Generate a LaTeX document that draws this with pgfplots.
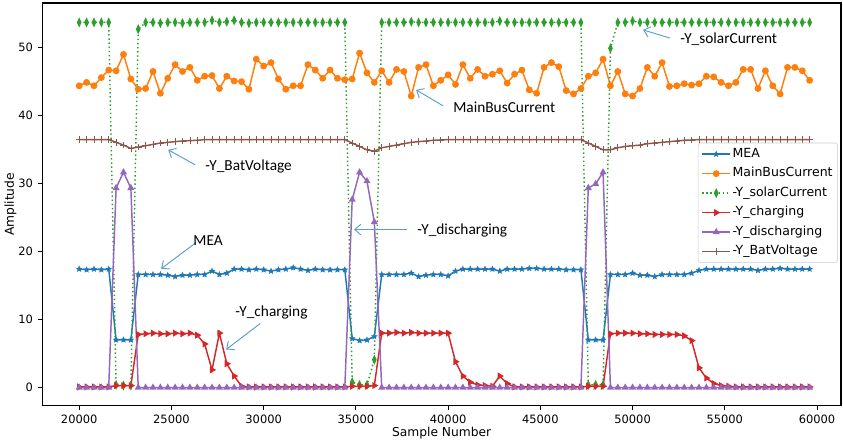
\documentclass[border=0pt]{standalone}
\usepackage{fontspec}
\setmainfont{DejaVu Sans}
\newfontfamily\annofont{Carlito}
\usepackage{pgfplots}
\pgfplotsset{compat=1.18}
\usepackage{pgfplotstable}
\usetikzlibrary{arrows.meta}

\definecolor{cblue}{HTML}{1F77B4}
\definecolor{corange}{HTML}{FF7F0E}
\definecolor{cgreen}{HTML}{2CA02C}
\definecolor{cred}{HTML}{D62728}
\definecolor{cpurple}{HTML}{9467BD}
\definecolor{cbrown}{HTML}{8C564B}
\definecolor{annoblue}{RGB}{91,155,213}

% filled five-pointed star (matplotlib '*')
\pgfdeclareplotmark{fstar}{%
  \pgfpathmoveto{\pgfpointpolar{90}{\pgfplotmarksize}}%
  \pgfpathlineto{\pgfpointpolar{126}{0.45\pgfplotmarksize}}%
  \pgfpathlineto{\pgfpointpolar{162}{\pgfplotmarksize}}%
  \pgfpathlineto{\pgfpointpolar{198}{0.45\pgfplotmarksize}}%
  \pgfpathlineto{\pgfpointpolar{234}{\pgfplotmarksize}}%
  \pgfpathlineto{\pgfpointpolar{270}{0.45\pgfplotmarksize}}%
  \pgfpathlineto{\pgfpointpolar{306}{\pgfplotmarksize}}%
  \pgfpathlineto{\pgfpointpolar{342}{0.45\pgfplotmarksize}}%
  \pgfpathlineto{\pgfpointpolar{18}{\pgfplotmarksize}}%
  \pgfpathlineto{\pgfpointpolar{54}{0.45\pgfplotmarksize}}%
  \pgfpathclose\pgfusepathqfillstroke}

% x mea bus sol chg dis bat
\pgfplotstableread{
x mea bus sol chg dis bat
20000 17.4 44.3 53.6 0.1 0 36.4
20400 17.3 44.8 53.6 0.1 0 36.4
20800 17.4 44.3 53.6 0.1 0 36.4
21200 17.3 45.5 53.6 0.1 0 36.4
21600 17.4 46.6 53.6 0.1 0 36.4
22000 7.0 46.5 0.4 0.3 29.3 36.0
22400 7.0 48.9 0.3 0.3 31.6 35.6
22800 7.0 45.3 0.3 0.3 29.3 35.1
23200 16.6 43.8 52.6 7.8 0 35.3
23600 16.6 43.9 53.6 7.9 0 35.5
24000 16.6 46.4 53.6 8.0 0 35.7
24400 16.6 43.2 53.5 7.9 0 35.9
24800 16.5 45.4 53.6 7.9 0 36.0
25200 16.3 47.4 53.6 8.0 0 36.1
25600 16.5 46.4 53.5 7.9 0 36.2
26000 16.5 47.0 53.6 8.0 0 36.25
26400 16.6 45.1 53.6 7.7 0 36.3
26800 16.6 45.7 53.6 6.4 0 36.4
27200 17.1 45.8 53.9 2.6 0 36.4
27600 16.6 43.9 53.6 8.0 0 36.4
28000 16.8 45.7 53.7 3.5 0 36.4
28400 17.4 45.0 53.9 1.7 0 36.4
28800 17.4 44.9 53.6 0.2 0 36.4
29200 17.3 43.8 53.5 0.1 0 36.4
29600 17.4 48.2 53.6 0.1 0 36.4
30000 17.3 47.2 53.6 0.1 0 36.4
30400 17.1 47.7 53.6 0.1 0 36.4
30800 17.3 45.3 53.6 0.1 0 36.4
31200 17.4 43.8 53.6 0.1 0 36.4
31600 17.6 44.3 53.6 0.1 0 36.4
32000 17.4 44.3 53.6 0.1 0 36.4
32400 17.2 47.4 53.6 0.1 0 36.4
32800 17.4 46.6 53.6 0.1 0 36.4
33200 17.3 45.4 53.6 0.1 0 36.4
33600 17.3 46.6 53.6 0.1 0 36.4
34000 17.3 45.4 53.6 0.1 0 36.4
34400 17.3 45.2 53.6 0.1 0 36.4
34800 7.2 45.3 0.8 0.2 27.6 35.9
35200 6.9 49.1 0.4 0.2 31.6 35.4
35600 7.0 46.2 0.4 0.2 30.3 34.9
36000 7.5 44.8 4.1 0.3 24.3 34.7
36400 16.6 46.5 53.6 8.0 0 35.2
36800 16.6 44.8 53.6 8.0 0 35.4
37200 16.6 46.7 53.6 8.1 0 35.6
37600 16.6 46.4 53.6 8.0 0 35.8
38000 16.8 42.8 53.7 8.1 0 36.0
38400 16.3 47.0 53.6 8.0 0 36.1
38800 16.5 47.4 53.6 8.0 0 36.2
39200 16.6 44.3 53.6 8.0 0 36.3
39600 16.6 45.1 53.6 8.0 0 36.35
40000 16.4 45.9 53.6 8.0 0 36.4
40400 17.1 44.5 53.6 3.8 0 36.4
40800 17.4 47.4 53.6 1.7 0 36.4
41200 17.4 45.4 53.6 0.8 0 36.4
41600 17.4 46.7 53.6 0.4 0 36.4
42000 17.4 45.7 53.6 0.3 0 36.4
42400 17.4 46.0 53.6 0.2 0 36.4
42800 17.1 46.5 53.8 1.7 0 36.4
43200 17.4 44.7 53.6 0.6 0 36.4
43600 17.4 46.0 53.6 0.1 0 36.4
44000 17.4 46.6 53.6 0.1 0 36.4
44400 17.5 43.7 53.6 0.1 0 36.4
44800 17.5 43.2 53.6 0.1 0 36.4
45200 17.4 47.0 53.6 0.1 0 36.4
45600 17.4 47.7 53.6 0.1 0 36.4
46000 17.4 47.1 53.6 0.1 0 36.4
46400 17.3 43.6 53.6 0.1 0 36.4
46800 17.3 43.1 53.6 0.1 0 36.4
47200 17.3 43.9 53.6 0.1 0 36.4
47600 7.0 45.7 0.4 0.2 29.3 35.9
48000 7.0 46.2 0.4 0.2 29.9 35.4
48400 7.0 48.2 0.4 0.2 31.6 34.9
48800 16.6 44.3 49.8 7.9 0 34.9
49200 16.6 46.4 53.6 8.0 0 35.2
49600 16.6 43.1 53.6 8.0 0 35.4
50000 16.8 42.8 53.8 8.0 0 35.5
50400 16.5 43.9 53.6 7.9 0 35.6
50800 16.5 47.0 53.6 7.9 0 35.8
51200 16.3 45.7 53.6 7.8 0 35.9
51600 16.6 47.7 53.6 7.8 0 36.0
52000 16.6 44.2 53.6 7.8 0 36.1
52400 16.6 44.3 53.6 7.8 0 36.2
52800 16.6 44.6 53.6 7.6 0 36.3
53200 16.8 44.4 53.6 6.9 0 36.35
53600 17.2 44.6 53.6 2.9 0 36.4
54000 17.4 45.7 53.6 1.4 0 36.4
54400 17.4 45.6 53.6 0.6 0 36.4
54800 17.4 44.8 53.6 0.3 0 36.4
55200 17.4 44.3 53.6 0.2 0 36.4
55600 17.4 44.8 53.6 0.1 0 36.4
56000 17.4 46.7 53.6 0.1 0 36.4
56400 17.4 46.7 53.6 0.1 0 36.4
56800 17.2 43.9 53.6 0.1 0 36.4
57200 17.4 46.5 53.6 0.1 0 36.4
57600 17.4 44.3 53.6 0.1 0 36.4
58000 17.5 43.1 53.6 0.1 0 36.4
58400 17.4 47.0 53.6 0.1 0 36.4
58800 17.4 47.0 53.6 0.1 0 36.4
59200 17.4 46.5 53.6 0.1 0 36.4
59600 17.4 45.1 53.6 0.1 0 36.4
}\datatable

\begin{document}
\begin{tikzpicture}
\begin{axis}[
 scale only axis,width=599pt,height=302pt,
 xmin=18000,xmax=61300,ymin=-2.65,ymax=56.45,
 xtick={20000,25000,...,60000},ytick={0,10,...,50},
 scaled x ticks=false,
 xticklabel style={/pgf/number format/1000 sep={}},
 /pgf/number format/assume math mode=true,
 tick align=outside,tick pos=left,major tick length=3.5pt,
 tick style={black,line width=0.6pt},
 axis line style={line width=0.8pt},
 tick label style={font=\fontsize{8.6}{10}\selectfont},
 label style={font=\fontsize{9.2}{10}\selectfont},
 xlabel={Sample Number},ylabel={Amplitude},
 xlabel style={at={(axis description cs:0.5,-0.068)},anchor=center},
 ylabel style={at={(axis description cs:-0.040,0.5)},anchor=center},
 every axis plot/.append style={line width=1.1pt},
 legend cell align=left,
 legend style={at={(0.996,0.653)},anchor=north east,draw=black!20,rounded corners=2pt,
   font=\fontsize{9.4}{11}\selectfont,inner xsep=2.5pt,inner ysep=2.5pt,row sep=2.8pt,
   nodes={inner sep=1.2pt,text height=7.2pt,text depth=2.2pt}},
 legend image code/.code={\draw[mark repeat=2,mark phase=2,#1] plot coordinates {(0pt,0pt) (10.5pt,0pt) (21pt,0pt)};},
]
\addplot[cblue,mark=fstar,mark size=2.2pt,mark options={line width=0.3pt}] table[x=x,y=mea]{\datatable};
\addlegendentry{MEA}
\addplot[corange,mark=*,mark size=2pt] table[x=x,y=bus]{\datatable};
\addlegendentry{MainBusCurrent}
\addplot[cgreen,dash pattern=on 1.1pt off 2pt,mark=diamond*,mark size=2.5pt,mark options={solid,xscale=0.62}] table[x=x,y=sol]{\datatable};
\addlegendentry{-Y\_solarCurrent}
\addplot[cred,mark=triangle*,mark size=2pt,mark options={rotate=-90}] table[x=x,y=chg]{\datatable};
\addlegendentry{-Y\_charging}
\addplot[cpurple,mark=triangle*,mark size=2pt] table[x=x,y=dis]{\datatable};
\addlegendentry{-Y\_discharging}
\addplot[cbrown,mark=+,mark size=2.5pt,mark options={line width=0.5pt}] table[x=x,y=bat]{\datatable};
\addlegendentry{-Y\_BatVoltage}

% annotations
\begin{scope}[every node/.style={font=\annofont\fontsize{11.5}{12}\selectfont,anchor=west,inner sep=0pt}]
\draw[annoblue,line width=0.7pt,-{Straight Barb[length=4.5pt,width=8pt]}] (axis cs:52033,51.3) -- (axis cs:50569,52.5);
\node at (axis cs:52575,51.2) {-Y\_solarCurrent};
\draw[annoblue,line width=0.7pt,-{Straight Barb[length=4.5pt,width=8pt]}] (axis cs:39729,41.35) -- (axis cs:38266,43.7);
\node at (axis cs:40271,41.2) {MainBusCurrent};
\draw[annoblue,line width=0.7pt,-{Straight Barb[length=4.5pt,width=8pt]}] (axis cs:26287,32.7) -- (axis cs:24824,34.9);
\node at (axis cs:26829,32.4) {-Y\_BatVoltage};
\draw[annoblue,line width=0.7pt,-{Straight Barb[length=4.5pt,width=8pt]}] (axis cs:26341,21.3) -- (axis cs:24444,17.45);
\node at (axis cs:26179,21.6) {MEA};
\draw[annoblue,line width=0.7pt,-{Straight Barb[length=4.5pt,width=8pt]}] (axis cs:29810,9.4) -- (axis cs:27967,5.6);
\node at (axis cs:28455,11.0) {-Y\_charging};
\draw[annoblue,line width=0.7pt,-{Straight Barb[length=4.5pt,width=8pt]}] (axis cs:37778,23.2) -- (axis cs:34905,23.2);
\node at (axis cs:38320,23.0) {-Y\_discharging};
\end{scope}
\coordinate (sw) at (rel axis cs:0,0);
\coordinate (ne) at (rel axis cs:1,1);
\end{axis}
\path ([shift={(-31.5pt,-27pt)}]sw) rectangle ([shift={(1.5pt,2.25pt)}]ne);
\end{tikzpicture}
\end{document}
